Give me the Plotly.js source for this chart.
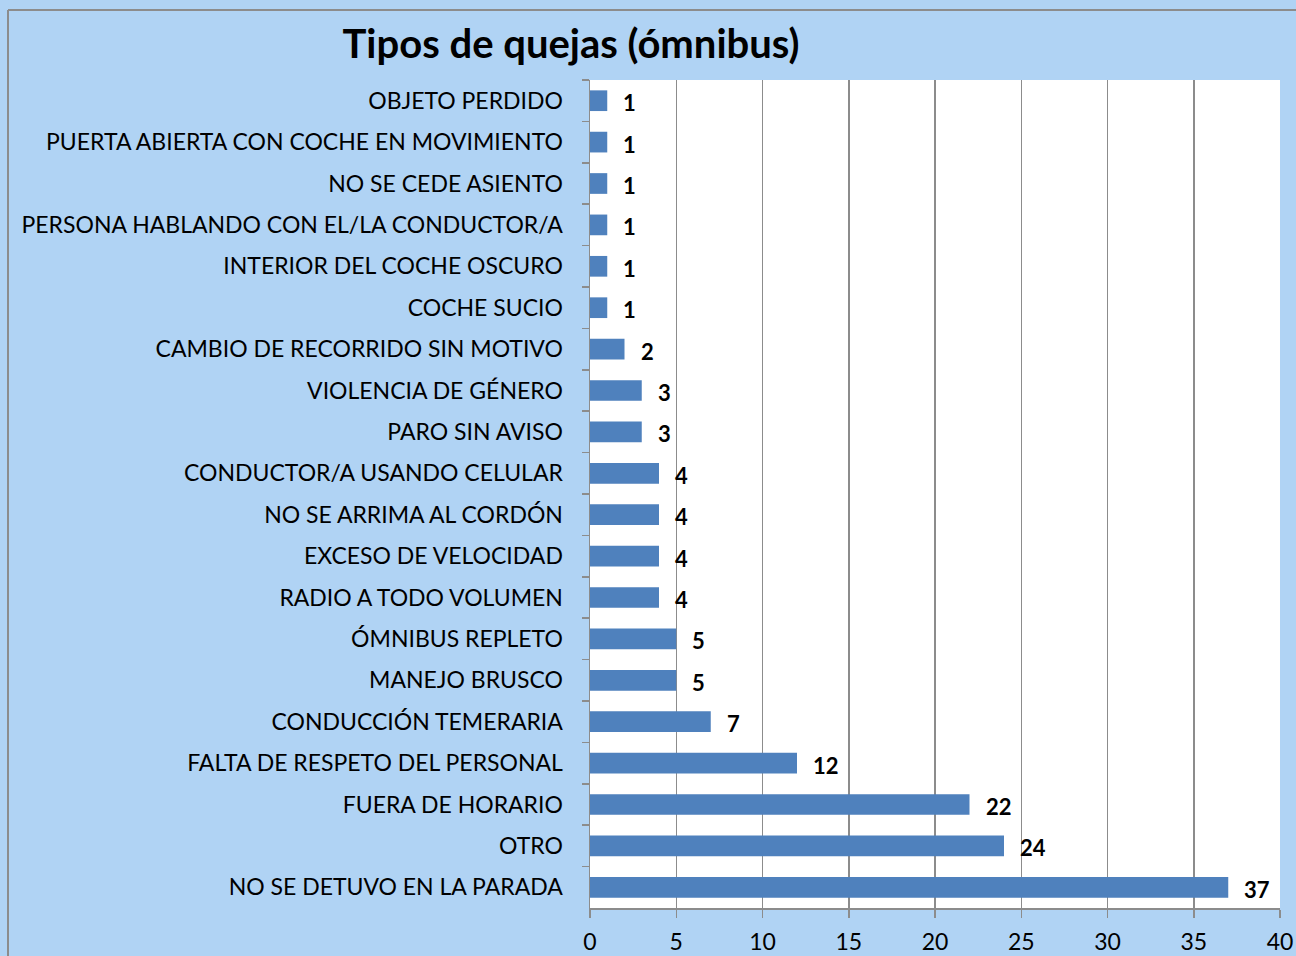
<!DOCTYPE html>
<html>
<head>
<meta charset="utf-8">
<script src="https://cdn.plot.ly/plotly-3.0.1.min.js"></script>
<style>html,body{margin:0;padding:0;background:#B0D3F4;}#chart{width:1296px;height:956px;}</style>
</head>
<body>
<div id="chart"></div>
<script>
const categories = [
  "OBJETO PERDIDO",
  "PUERTA ABIERTA CON COCHE EN MOVIMIENTO",
  "NO SE CEDE ASIENTO",
  "PERSONA HABLANDO CON EL/LA CONDUCTOR/A",
  "INTERIOR DEL COCHE OSCURO",
  "COCHE SUCIO",
  "CAMBIO DE RECORRIDO SIN MOTIVO",
  "VIOLENCIA DE GÉNERO",
  "PARO SIN AVISO",
  "CONDUCTOR/A USANDO CELULAR",
  "NO SE ARRIMA AL CORDÓN",
  "EXCESO DE VELOCIDAD",
  "RADIO A TODO VOLUMEN",
  "ÓMNIBUS REPLETO",
  "MANEJO BRUSCO",
  "CONDUCCIÓN TEMERARIA",
  "FALTA DE RESPETO DEL PERSONAL",
  "FUERA DE HORARIO",
  "OTRO",
  "NO SE DETUVO EN LA PARADA"
];
const values = [1, 1, 1, 1, 1, 1, 2, 3, 3, 4, 4, 4, 4, 5, 5, 7, 12, 22, 24, 37];
const xTicks = [0, 5, 10, 15, 20, 25, 30, 35, 40];
const chartTitle = "Tipos de quejas (ómnibus)";

const font = "Lato, 'Open Sans', 'Liberation Sans', sans-serif";

const trace = {
  type: "bar",
  orientation: "h",
  x: values,
  y: categories,
  marker: {color: "#4F81BD", line: {width: 0}},
  hoverinfo: "skip",
  cliponaxis: false
};

const annotations = values.map((v, i) => ({
  x: v, y: categories[i], xref: "x", yref: "y",
  text: "<b>" + v + "</b>", showarrow: false,
  xanchor: "left", xshift: 14, yshift: -2,
  font: {family: font, size: 22, color: "#000"}
}));

const layout = {
  width: 1296, height: 956,
  paper_bgcolor: "#B0D3F4",
  plot_bgcolor: "#FFFFFF",
  margin: {l: 590, r: 16, t: 80, b: 48, pad: 0},
  title: {
    text: "<b>" + chartTitle + "</b>",
    font: {family: font, size: 40, color: "#000"},
    x: 571/1296, xref: "container", xanchor: "center",
    y: 1 - 44/956, yref: "container", yanchor: "middle"
  },
  bargap: 0.5,
  showlegend: false,
  xaxis: {
    range: [0, 40],
    tickvals: xTicks,
    ticktext: xTicks.map(String),
    showgrid: true, gridcolor: "#8C8C8C", gridwidth: 1.5,
    zeroline: false,
    showline: true, linecolor: "#8C8C8C", linewidth: 1.5,
    ticks: "outside", ticklen: 8, tickcolor: "#8C8C8C", tickwidth: 1.5,
    ticklabelstandoff: 5,
    tickfont: {family: font, size: 23, color: "#000"},
    fixedrange: true
  },
  yaxis: {
    categoryorder: "array",
    categoryarray: categories,
    autorange: "reversed",
    showgrid: false, zeroline: false,
    showline: true, linecolor: "#8C8C8C", linewidth: 1.5,
    ticks: "outside", tickson: "boundaries", ticklen: 7, tickcolor: "#8C8C8C", tickwidth: 1.5,
    ticklabelstandoff: 21,
    tickfont: {family: font, size: 23, color: "#000"},
    fixedrange: true
  },
  annotations: annotations,
  shapes: [
    {type: "line", xref: "paper", yref: "paper",
     x0: (8 - 590)/690, x1: (1300 - 590)/690, y0: (956 - 48 - 10)/828, y1: (956 - 48 - 10)/828,
     line: {color: "#8C8C8C", width: 2}},
    {type: "line", xref: "paper", yref: "paper",
     x0: (8 - 590)/690, x1: (8 - 590)/690, y0: (956 - 48 - 10)/828, y1: -0.1,
     line: {color: "#8C8C8C", width: 2}}
  ]
};

Plotly.newPlot("chart", [trace], layout, {displayModeBar: false, staticPlot: true});
</script>
</body>
</html>
